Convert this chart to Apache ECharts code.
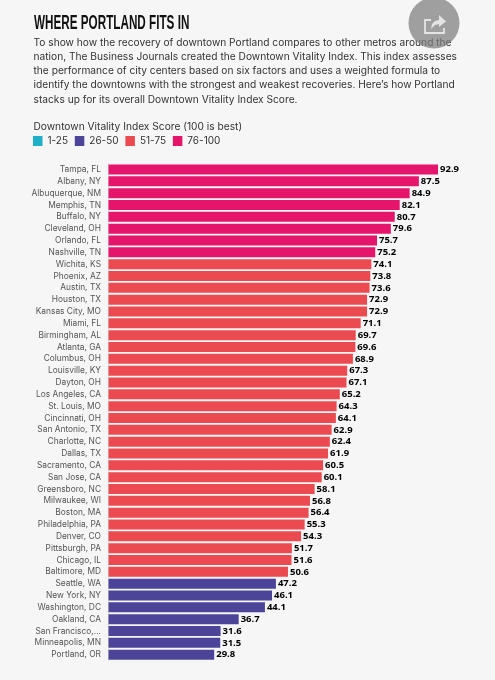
<!DOCTYPE html>
<html><head><meta charset="utf-8">
<style>html,body{margin:0;padding:0;background:#f6f6f6}#c{width:495px;height:680px}</style>
<script src="https://cdn.jsdelivr.net/npm/echarts@6/dist/echarts.min.js"></script>
</head><body><div id="c"></div>
<script>
const categories = ["Tampa, FL","Albany, NY","Albuquerque, NM","Memphis, TN","Buffalo, NY","Cleveland, OH","Orlando, FL","Nashville, TN","Wichita, KS","Phoenix, AZ","Austin, TX","Houston, TX","Kansas City, MO","Miami, FL","Birmingham, AL","Atlanta, GA","Columbus, OH","Louisville, KY","Dayton, OH","Los Angeles, CA","St. Louis, MO","Cincinnati, OH","San Antonio, TX","Charlotte, NC","Dallas, TX","Sacramento, CA","San Jose, CA","Greensboro, NC","Milwaukee, WI","Boston, MA","Philadelphia, PA","Denver, CO","Pittsburgh, PA","Chicago, IL","Baltimore, MD","Seattle, WA","New York, NY","Washington, DC","Oakland, CA","San Francisco,...","Minneapolis, MN","Portland, OR"];
const scores = [92.9,87.5,84.9,82.1,80.7,79.6,75.7,75.2,74.1,73.8,73.6,72.9,72.9,71.1,69.7,69.6,68.9,67.3,67.1,65.2,64.3,64.1,62.9,62.4,61.9,60.5,60.1,58.1,56.8,56.4,55.3,54.3,51.7,51.6,50.6,47.2,46.1,44.1,36.7,31.6,31.5,29.8];
const tiers = ["1-25","26-50","51-75","76-100"];
const tierColors = ["#1FAFC8","#4B4499","#EB4A50","#E5156B"];
const titleText = "WHERE PORTLAND FITS IN";
const introText = ["To show how the recovery of downtown Portland compares to other metros around the","nation, The Business Journals created the Downtown Vitality Index. This index assesses","the performance of city centers based on six factors and uses a weighted formula to","identify the downtowns with the strongest and weakest recoveries. Here’s how Portland","stacks up for its overall Downtown Vitality Index Score."].join("\n");
const legendTitle = "Downtown Vitality Index Score (100 is best)";

function tierFor(v){ return v>=75.2?3:v>50?2:v>25?1:0; }
const BODY = "Inter, 'Open Sans', sans-serif";
const chart = echarts.init(document.getElementById('c'),null,{renderer:'canvas'});
chart.setOption({
  backgroundColor:'#f6f6f6', animation:false,
  title:[
    {text:introText,left:28.5,top:31,textStyle:{fontFamily:BODY,fontWeight:'normal',fontSize:10.2,lineHeight:14.1,color:'#333'}},
    {text:legendTitle,left:28.5,top:117,textStyle:{fontFamily:BODY,fontWeight:'normal',fontSize:10.2,color:'#333'}}
  ],
  legend:{left:28,top:131,padding:5,itemWidth:9.5,itemHeight:10,itemGap:6.8,icon:'rect',selectedMode:false,
    data:tiers,textStyle:{fontFamily:BODY,fontSize:10,color:'#333'}},
  grid:{left:108.5,top:163.6,width:354.7,height:497},
  xAxis:{type:'value',min:0,max:100,show:false},
  yAxis:{type:'category',inverse:true,data:categories,
    axisTick:{show:false},axisLine:{show:true,lineStyle:{color:'#ddd',width:1}},
    axisLabel:{interval:0,margin:7.5,fontFamily:BODY,fontSize:8.4,color:'#555'}},
  series:tiers.map((t,k)=>({
    name:t,type:'bar',barWidth:10,barGap:'-100%',
    itemStyle:{color:tierColors[k]},
    data:scores.map(v=>tierFor(v)===k?v:null),
    label:{show:true,position:'right',distance:2,fontFamily:"'Open Sans',sans-serif",fontWeight:'bold',fontSize:9.5,color:'#000',
      formatter:p=>p.value==null?'':p.value.toFixed(1)}
  })),
  graphic:[
    {type:'text',x:34,y:13,scaleX:0.585,style:{text:titleText,font:"bold 20px 'Liberation Sans',sans-serif",fill:'#111'}},
    {type:'circle',shape:{cx:434,cy:23,r:25.5},style:{fill:'rgba(125,125,125,0.72)'},z:100},
    {type:'polyline',z:101,shape:{points:[[431,20],[425,20],[425,33],[444,33],[444,28]]},style:{fill:'none',stroke:'rgba(235,235,235,0.9)',lineWidth:1.8}},
    {type:'polygon',z:101,shape:{points:[[431,29],[432,24],[435,21],[439,20],[439,15],[446,21.5],[439,27],[439,24],[435,25]]},style:{fill:'rgba(235,235,235,0.9)'}}
  ]
});
</script></body></html>
